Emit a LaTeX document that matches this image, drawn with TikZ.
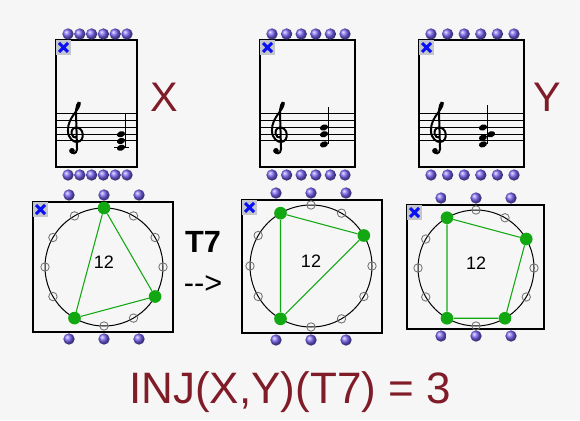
\documentclass[tikz,border=0pt]{standalone}
\usepackage{fontspec}
\setmainfont{Liberation Sans}
\definecolor{bg}{RGB}{246,246,246}
\definecolor{maxred}{RGB}{128,28,40}
\definecolor{pcgreen}{RGB}{18,168,18}
\definecolor{inletblue}{RGB}{118,98,240}
\definecolor{badgegray}{RGB}{196,198,204}
\definecolor{xblue}{RGB}{8,16,245}
\begin{document}
\begin{tikzpicture}[
        x=0.75pt, y=-0.75pt,
        patchbox/.style={draw, line width=1.2pt},
        inlet/.style={circle, inner sep=0pt, minimum size=8.5pt, shade, ball color=inletblue},
        staffline/.style={line width=0.75pt},
        clefline/.style={line width=1.5pt, line cap=round},
        stem/.style={line width=0.7pt},
        ledger/.style={line width=0.75pt},
        xmark/.style={xblue, line width=2.2pt},
        wheel/.style={line width=0.75pt},
        pcoff/.style={circle, draw=gray!90!black, line width=0.65pt, inner sep=0pt, minimum size=6.3pt},
        pcon/.style={circle, fill=pcgreen, inner sep=0pt, minimum size=9.5pt},
        chord/.style={pcgreen, line width=0.8pt},
        varname/.style={text=maxred, font=\fontsize{31}{36}\selectfont, inner sep=0pt},
        opname/.style={font=\fontsize{23}{26}\selectfont, inner sep=0pt}
    ]
    \useasboundingbox (0,0) rectangle (580,420);
    \fill[bg] (0,0) rectangle (580,420);

    % score patches
    \foreach \bx/\l/\r in {score-x/56/137, score-t/260/355, score-y/419/524} {
        \draw[patchbox] (\l,40) rectangle (\r,167);
        \foreach \i in {0,...,5} {
            \node[inlet] (\bx-in-\i) at ({\l+12+\i*(\r-\l-22)/5},34) {};
            \node[inlet] (\bx-out-\i) at ({\l+12+\i*(\r-\l-22)/5},175) {};
        }
        \foreach \k in {0,...,4}
            \draw[staffline] (\l,{141-6.75*\k}) -- (\r,{141-6.75*\k});
        \begin{scope}[shift={({\l+18},141)}, x=5.06pt, y=5.06pt]
            \draw[clefline] (0.45,-1.2) .. controls (0.4,-2.0) and (-0.4,-2.0) .. (-0.4,-1.4);
            \fill (-0.3,-1.45) circle (0.42);
            \draw[clefline] (0.45,-1.2) -- (0.3,4.0)
                .. controls (0.25,5.0) and (0.6,6.0) .. (0.85,5.6)
                .. controls (0.9,4.6) and (-0.9,3.6) .. (-0.9,1.6)
                .. controls (-0.9,0.3) and (0.0,-0.15) .. (0.4,-0.15)
                .. controls (1.1,-0.15) and (1.35,0.5) .. (1.3,1.0)
                .. controls (1.25,1.7) and (0.7,2.0) .. (0.35,2.0)
                .. controls (-0.2,2.0) and (-0.45,1.5) .. (-0.35,1.05)
                .. controls (-0.25,0.6) and (0.1,0.5) .. (0.2,0.55);
        \end{scope}
        \fill[badgegray] (\l,40) rectangle ++(15,15);
        \draw[xmark] ({\l+3},43) -- ({\l+12},52) ({\l+12},43) -- ({\l+3},52);
    }

    % chords on the staves
    \begin{scope}[shift={(125,141)}, x=5.06pt, y=5.06pt]
        \draw[ledger] (-1.6,-1) -- (0.6,-1);
        \foreach \h in {-1,0,1}
            \fill[rotate around={20:(-0.6,\h)}] (-0.6,\h) ellipse (0.62 and 0.44);
        \draw[stem] (0,-1) -- (0,4.1);
    \end{scope}
    \begin{scope}[shift={(328,141)}, x=5.06pt, y=5.06pt]
        \foreach \h in {-0.5,1,2}
            \fill[rotate around={20:(-0.6,\h)}] (-0.6,\h) ellipse (0.62 and 0.44);
        \draw[stem] (0,-0.5) -- (0,5.0);
    \end{scope}
    \begin{scope}[shift={(487,141)}, x=5.06pt, y=5.06pt]
        \foreach \h in {-0.5,0.5,2}
            \fill[rotate around={20:(-0.6,\h)}] (-0.6,\h) ellipse (0.62 and 0.44);
        \fill[rotate around={20:(0.6,1)}] (0.6,1) ellipse (0.62 and 0.44);
        \draw[stem] (0,-0.5) -- (0,5.3);
    \end{scope}

    % pitch-class clock patches
    \foreach \bx/\l/\t/\r/\b/\cx/\cy/\rad in {clock-x/33/202/173/332/104/267/59, clock-t/242/200/382/333/311/266/61, clock-y/407/205/544/329/476/268/58} {
        \draw[patchbox] (\l,\t) rectangle (\r,\b);
        \foreach \i in {0,1,2} {
            \node[inlet] (\bx-in-\i) at ({\cx+35*(\i-1)},{\t-7}) {};
            \node[inlet] (\bx-out-\i) at ({\cx+35*(\i-1)},{\b+7}) {};
        }
        \draw[wheel] (\cx,\cy) circle (\rad);
        \foreach \k in {0,...,11}
            \node[pcoff] (\bx-pc-\k) at ({\cx+\rad*cos(30*\k-90)},{\cy+\rad*sin(30*\k-90)}) {};
        \node[font=\fontsize{13.5}{15}\selectfont] (\bx-mod) at (\cx,{\cy-5}) {12};
        \fill[badgegray] (\l,\t) rectangle ++(15,15);
        \draw[xmark] ({\l+3},{\t+3}) -- ({\l+12},{\t+12}) ({\l+12},{\t+3}) -- ({\l+3},{\t+12});
    }

    \foreach \k in {0,4,7}
        \node[pcon] (clock-x-on-\k) at (clock-x-pc-\k) {};
    \foreach \k in {2,7,11}
        \node[pcon] (clock-t-on-\k) at (clock-t-pc-\k) {};
    \foreach \k in {2,5,7,11}
        \node[pcon] (clock-y-on-\k) at (clock-y-pc-\k) {};

    \draw[chord] (clock-x-on-0) -- (clock-x-on-4) -- (clock-x-on-7) -- (clock-x-on-0);
    \draw[chord] (clock-t-on-11) -- (clock-t-on-2) -- (clock-t-on-7) -- (clock-t-on-11);
    \draw[chord] (clock-y-on-11) -- (clock-y-on-2) -- (clock-y-on-5) -- (clock-y-on-7) -- (clock-y-on-11);

    % labels
    \node[varname, anchor=base] (name-x) at (164,112) {X};
    \node[varname, anchor=base] (name-y) at (547,112) {Y};
    \node[opname, font=\bfseries\fontsize{23}{26}\selectfont, anchor=base] (op-name) at (203,252) {T7};
    \node[opname, anchor=base] (op-arrow) at (203,293) {-{}->};
    \node[varname, font=\fontsize{33}{38}\selectfont, anchor=base] (inj-result) at (290,403) {INJ(X,Y)(T7) = 3};
\end{tikzpicture}
\end{document}
